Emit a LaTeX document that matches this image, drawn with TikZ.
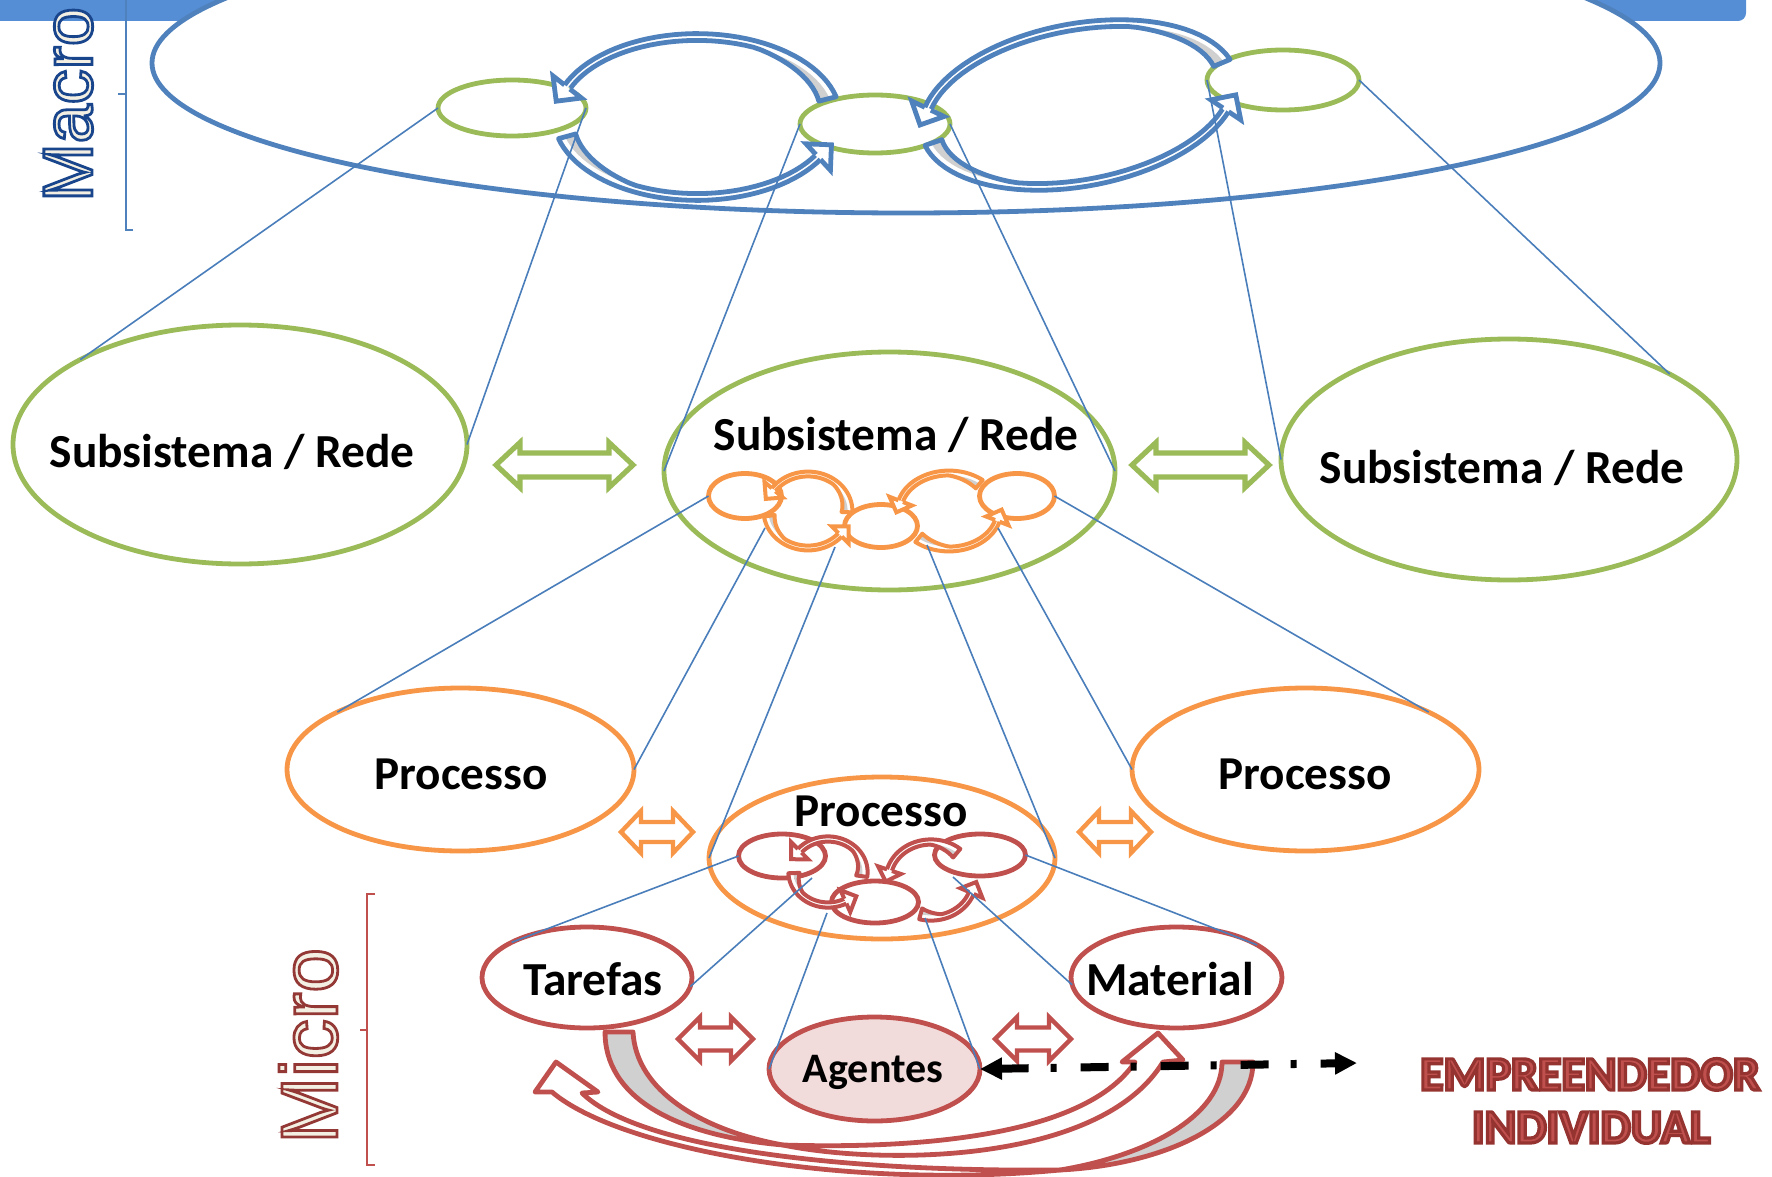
\documentclass[tikz,border=0pt]{standalone}
\usepackage{fontspec}
\setmainfont{Carlito}
\newfontfamily\arialf{Liberation Sans}
\usetikzlibrary{shapes.geometric,arrows.meta,decorations.markings}
\definecolor{cgreen}{HTML}{9BBB59}
\definecolor{cblue}{HTML}{4F81BD}
\definecolor{cconn}{HTML}{4A7EBB}
\definecolor{corange}{HTML}{F79646}
\definecolor{cred}{HTML}{C0504D}
\definecolor{cpink}{HTML}{F2DCDB}
\definecolor{tailgrey}{HTML}{D0D0D0}
\definecolor{cband}{HTML}{558ED5}
\definecolor{ccream}{HTML}{F3F0E3}

\newcommand\outl[4]{{\color{#1}\special{pdf:literal direct #2 RG 2 Tr #3 w}#4\special{pdf:literal direct 0 Tr}}}
\newcommand\ringset[7]{\def\rcol{#1}\def\rlw{#2}\def\rhw{#3}\def\rext{#4}\def\rhh{#5}\def\rhl{#6}\def\rhwpt{#7}}
\newcommand\ringarrow[6]{%
\begin{scope}[shift={(#1)}, rotate=#2]
\fill[white] plot[variable=\s, domain=0:1, samples=40] ({(#3+\rhw)*cos(#5+\s*(#6-(#5)))}, {(#4+\rhw)*sin(#5+\s*(#6-(#5)))}) -- plot[variable=\s, domain=0:1, samples=40] ({(#3-\rhw)*cos(#6+\s*(#5-(#6)))}, {(#4-\rhw)*sin(#6+\s*(#5-(#6)))}) -- cycle;
\fill[tailgrey] plot[variable=\s, domain=0:0.35, samples=14] ({(#3-\rhw)*cos(#5+\s*(#6-(#5)))}, {(#4-\rhw)*sin(#5+\s*(#6-(#5)))}) -- plot[variable=\s, domain=0:0.35, samples=14] ({(#3-\rhw-\rext*\s/0.35)*cos(#5+(0.35-\s)*(#6-(#5)))}, {(#4-\rhw-\rext*\s/0.35)*sin(#5+(0.35-\s)*(#6-(#5)))}) -- cycle;
\draw[draw=\rcol, line width=\rlw, line join=round] plot[variable=\s, domain=0:1, samples=40] ({(#3+\rhw)*cos(#6+\s*(#5-(#6)))}, {(#4+\rhw)*sin(#6+\s*(#5-(#6)))}) -- plot[variable=\s, domain=0:1, samples=40] ({(#3-\rhw-\rext*max(0,1-\s/0.35))*cos(#5+\s*(#6-(#5)))}, {(#4-\rhw-\rext*max(0,1-\s/0.35))*sin(#5+\s*(#6-(#5)))});
\path[postaction={decorate, decoration={markings, mark=at position 1 with {\fill[white] (0pt,-\rhh) -- (\rhl,0pt) -- (0pt,\rhh) -- cycle; \draw[draw=\rcol, line width=\rlw, line join=miter] (0pt,\rhwpt) -- (0pt,\rhh) -- (\rhl,0pt) -- (0pt,-\rhh) -- (0pt,-\rhwpt);}}}] plot[variable=\s, domain=0:1, samples=40] ({#3*cos(#5+\s*(#6-(#5)))}, {#4*sin(#5+\s*(#6-(#5)))});
\end{scope}}
\newcommand\dblarr[7]{%
\filldraw[#1] ({#2-#4},#3) -- ({#2-#4+#7},{#3-#5}) -- ({#2-#4+#7},{#3-#6}) -- ({#2+#4-#7},{#3-#6}) -- ({#2+#4-#7},{#3-#5}) -- ({#2+#4},#3) -- ({#2+#4-#7},{#3+#5}) -- ({#2+#4-#7},{#3+#6}) -- ({#2-#4+#7},{#3+#6}) -- ({#2-#4+#7},{#3+#5}) -- cycle;}

\begin{document}
\begin{tikzpicture}[x=0.5pt,y=-0.5pt,
  ell/.style={ellipse, inner sep=0pt, outer sep=0pt, line width=2.4pt, fill=white},
  conn/.style={draw=cconn, line width=0.8pt},
  lblS/.style={font=\bfseries\fontsize{23.7}{28}\selectfont, anchor=base, inner sep=0pt},
  lblP/.style={font=\bfseries\fontsize{23.6}{28}\selectfont, anchor=base, inner sep=0pt},
  lblA/.style={font=\bfseries\fontsize{21}{25}\selectfont, anchor=base, inner sep=0pt},
  lblE/.style={font=\bfseries\fontsize{24}{29}\selectfont, anchor=base, inner sep=0pt},
  side/.style={rotate=90, anchor=base west, inner sep=0pt},
  blockarr/.style={fill=white, line width=2.6pt, line join=miter},
  redband/.style={draw=cred, line width=2.4pt, line join=round},
  dasharrow/.style={line width=4pt, black, dash pattern=on 14pt off 11pt on 3pt off 12pt, arrows={Triangle[length=11pt,width=10.5pt]-Triangle[length=11pt,width=10.5pt]}}
]
\useasboundingbox (0,0) rectangle (1772,1177);
\clip (0,0) rectangle (1772,1177);

% top band
\fill[cband, rounded corners=4pt] (-20,-20) rectangle (1746,21);

% macro level
\node[ell, draw=cblue, minimum width=754pt, minimum height=150pt] (macroell) at (906,63) {};
\node[ell, draw=cgreen, minimum width=74pt, minimum height=28pt] (e1) at (512,108) {};
\node[ell, draw=cgreen, minimum width=75pt, minimum height=29pt] (e2) at (875,124) {};
\node[ell, draw=cgreen, minimum width=76pt, minimum height=30pt] (e3) at (1283,80) {};
\ringset{cblue}{2.4pt}{3.4}{11}{9pt}{9pt}{1.7pt}
\ringarrow{697,117}{0}{140}{80}{-14}{-158}
\ringarrow{697,117}{0}{140}{80}{165}{30}
\ringarrow{1079,105}{10.6}{157}{78}{-12}{-162}
\ringarrow{1079,105}{10.6}{157}{78}{172}{24}

% subsystem level
\node[ell, draw=cgreen, minimum width=227pt, minimum height=119.5pt] (S1) at (240,444.5) {};
\node[ell, draw=cgreen, minimum width=225.5pt, minimum height=119pt] (S2) at (889.5,471) {};
\node[ell, draw=cgreen, minimum width=228pt, minimum height=120.5pt] (S3) at (1509,459.5) {};
\node[lblS] (tS1) at (232,467) {Subsistema / Rede};
\node[lblS] (tS2) at (896,450) {Subsistema / Rede};
\node[lblS] (tS3) at (1502,483) {Subsistema / Rede};
\node[ell, draw=corange, minimum width=36.5pt, minimum height=22.5pt] (o1) at (745,496) {};
\node[ell, draw=corange, minimum width=36.5pt, minimum height=21.5pt] (o2) at (881,526) {};
\node[ell, draw=corange, minimum width=37.5pt, minimum height=22.5pt] (o3) at (1017,496) {};
\ringset{corange}{2pt}{2.4}{6}{6pt}{6pt}{1.2pt}
\ringarrow{808,511}{0}{42}{37}{2}{-145}
\ringarrow{808,511}{0}{42}{37}{172}{40}
\ringarrow{949,511}{0}{50}{38}{-50}{-165}
\ringarrow{949,511}{0}{50}{38}{130}{15}
\dblarr{blockarr, draw=cgreen}{564.5}{465}{68.5}{22.5}{12}{24}
\dblarr{blockarr, draw=cgreen}{1200.5}{465}{68.5}{22.5}{12}{24}

% process level
\node[ell, draw=corange, minimum width=173.5pt, minimum height=81.5pt] (P1) at (460.5,769.5) {};
\node[ell, draw=corange, minimum width=173pt, minimum height=81pt] (P2) at (882,858) {};
\node[ell, draw=corange, minimum width=173.5pt, minimum height=81.5pt] (P3) at (1305.5,769.5) {};
\node[lblP] (tP1) at (461,789) {Processo};
\node[lblP] (tP2) at (881,826) {Processo};
\node[lblP] (tP3) at (1305,789) {Processo};
\node[ell, draw=cred, minimum width=43.5pt, minimum height=22pt] (r1) at (782,856) {};
\node[ell, draw=cred, minimum width=43.5pt, minimum height=21pt] (r2) at (875,902) {};
\node[ell, draw=cred, minimum width=45.5pt, minimum height=21pt] (r3) at (980,855) {};
\ringset{cred}{2pt}{2.6}{6}{6pt}{6pt}{1.3pt}
\ringarrow{828,872}{0}{37}{33}{8}{-140}
\ringarrow{828,872}{0}{37}{33}{178}{62}
\ringarrow{931,880}{0}{43}{38}{-50}{-165}
\ringarrow{931,880}{0}{43}{38}{105}{20}
\dblarr{blockarr, draw=corange, line width=2.2pt}{657}{832}{36}{21}{10}{20}
\dblarr{blockarr, draw=corange, line width=2.2pt}{1115}{832}{36}{21}{10}{20}

% micro level
\node[ell, draw=cred, minimum width=105pt, minimum height=50.5pt] (Tarefas) at (587,977.5) {};
\node[ell, draw=cred, minimum width=105.5pt, minimum height=50.5pt] (Material) at (1176.5,977.5) {};
\node[ell, draw=cred, fill=cpink, minimum width=105.5pt, minimum height=52pt] (Agentes) at (874.5,1069) {};
\node[lblS] (tTar) at (593,995) {Tarefas};
\node[lblS] (tMat) at (1170,995) {Material};
\node[lblA] (tAg) at (873,1082) {Agentes};
\dblarr{blockarr, draw=cred, line width=2.2pt}{715.5}{1039}{37.5}{22}{11.5}{22}
\dblarr{blockarr, draw=cred, line width=2.2pt}{1033}{1039}{38}{22}{11.5}{22}

% connector start points
\coordinate (cA1) at (765,528);
\coordinate (cA2) at (835,547);
\coordinate (cB1) at (927,545);
\coordinate (cB2) at (998,528);
\coordinate (cC1) at (812,878);
\coordinate (cR2a) at (827,913);
\coordinate (cR2b) at (925,918);
\coordinate (cR3a) at (953,877);
\coordinate (dEnd) at (1357,1063);

\draw[conn] (e1.west) -- (S1.152);
\draw[conn] (e1.east) -- (S1.east);
\draw[conn] (e2.west) -- (S2.west);
\draw[conn] (e2.east) -- (S2.east);
\draw[conn] (e3.west) -- (S3.west);
\draw[conn] (e3.east) -- (S3.28);
\draw[conn] (o1.west) -- (P1.155);
\draw[conn] (cA1) -- (P1.east);
\draw[conn] (cA2) -- (P2.west);
\draw[conn] (cB1) -- (P2.east);
\draw[conn] (cB2) -- (P3.west);
\draw[conn] (o3.east) -- (P3.25);
\draw[conn] (r1.west) -- (Tarefas.155);
\draw[conn] (cC1) -- (Tarefas.-5);
\draw[conn] (cR2a) -- (Agentes.west);
\draw[conn] (cR2b) -- (Agentes.east);
\draw[conn] (cR3a) -- (Material.184);
\draw[conn] (r3.east) -- (Material.22);

% big red curved arrows
\filldraw[fill=tailgrey, redband] (605,1032) .. controls (605,1095) and (670,1135) .. (783,1145) .. controls (700,1130) and (636,1090) .. (633,1032) -- cycle;
\filldraw[fill=white, redband] (783,1145) .. controls (880,1165) and (1100,1165) .. (1163,1062) -- (1183,1060) -- (1158,1033) -- (1122,1062) -- (1135,1062) .. controls (1080,1145) and (880,1148) .. (783,1145) -- cycle;
\filldraw[fill=tailgrey, redband] (1253,1062) .. controls (1253,1125) and (1160,1165) .. (1060,1170) .. controls (1150,1155) and (1222,1115) .. (1222,1062) -- cycle;
\filldraw[fill=white, redband] (1060,1170) .. controls (850,1190) and (620,1150) .. (552,1092) -- (535,1092) -- (556,1062) -- (598,1092) -- (582,1093) .. controls (640,1150) and (850,1172) .. (1060,1170) -- cycle;

% dashed arrow
\draw[dasharrow] (Agentes.east) -- (dEnd);

% empreendedor
\node[lblE] (emp1) at (1590,1090) {\outl{cred}{0.58 0.2 0.19}{1.6}{EMPREENDEDOR}};
\node[lblE] (emp2) at (1591,1143) {\outl{cred}{0.58 0.2 0.19}{1.6}{INDIVIDUAL}};

% side labels and brackets
\node[side, font=\arialf\fontsize{35}{40}\selectfont] (macrotxt) at (92,202) {\outl{ccream}{0.1 0.27 0.55}{1.4}{Macro}};
\node[side, font=\arialf\fontsize{40}{45}\selectfont] (microtxt) at (337,1144) {\outl{ccream}{0.58 0.22 0.21}{1.4}{Micro}};
\draw[cblue, line width=0.8pt] (133,230) -- (126,230) -- (126,-10);
\draw[cblue, line width=0.8pt] (126,94) -- (118,94);
\draw[cred, line width=1pt] (375,894) -- (367,894) -- (367,1165) -- (375,1165);
\draw[cred, line width=1pt] (367,1030) -- (360,1030);
\end{tikzpicture}
\end{document}
